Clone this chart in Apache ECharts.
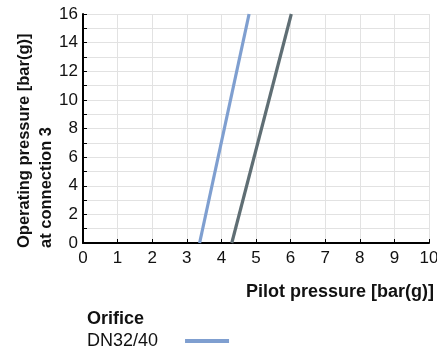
<!DOCTYPE html>
<html><head><meta charset="utf-8">
<script src="https://cdn.jsdelivr.net/npm/echarts@6/dist/echarts.min.js"></script>
<style>html,body{margin:0;padding:0;background:#fff}#c{width:437px;height:353px}</style>
</head><body><div id="c"></div>
<script>
const dn3240X = [3.37, 4.8];
const dn3240Y = [0, 16];
const otherX = [4.3, 6.02];
const otherY = [0, 16];
const xTicks = [0,1,2,3,4,5,6,7,8,9,10];
const yTickLabels = [0,2,4,6,8,10,12,14,16];

const font = "'Liberation Sans', Arial, Helvetica, sans-serif";
const chart = echarts.init(document.getElementById('c'));
chart.setOption({
  animation:false,
  textStyle:{fontFamily:font},
  grid:{left:83,right:8,top:14,bottom:110,containLabel:false,outerBoundsMode:'none'},
  title:{text:'Orifice',left:82,top:305,textStyle:{fontFamily:font,fontSize:18,fontWeight:'bold',color:'#111'}},
  legend:{left:82,top:327,itemWidth:44,itemHeight:4,align:'right',itemGap:10,
    textStyle:{fontFamily:font,fontSize:18,color:'#111',padding:[0,22,0,0]},
    data:[{name:'DN32/40',icon:'rect'}]},
  graphic:[
    {type:'text',right:3,top:283,style:{text:'Pilot pressure [bar(g)]',font:"bold 18px "+font,fill:'#111'}},
    {type:'text',x:35,y:248,rotation:Math.PI/2,style:{text:'Operating pressure [bar(g)]\nat connection 3',font:"bold 16.5px "+font,fill:'#111',lineHeight:22,align:'left',verticalAlign:'middle'}}
  ],
  xAxis:{type:'value',min:0,max:10,interval:1,
    axisLine:{lineStyle:{color:'#000',width:2}},
    axisTick:{show:true,inside:true,length:4,lineStyle:{color:'#000',width:1}},
    axisLabel:{fontFamily:font,fontSize:17,color:'#111',margin:7,formatter:v=>xTicks.includes(v)?String(v):''},
    splitLine:{show:true,lineStyle:{color:'#e2e2e2',width:1}}},
  yAxis:{type:'value',min:0,max:16,interval:1,
    axisLine:{show:true,lineStyle:{color:'#000',width:2}},
    axisTick:{show:true,inside:true,length:4,lineStyle:{color:'#000',width:1}},
    axisLabel:{fontFamily:font,fontSize:17,color:'#111',margin:5,formatter:v=>yTickLabels.includes(v)?String(v):''},
    splitLine:{show:true,lineStyle:{color:'#e2e2e2',width:1}}},
  series:[
    {name:'DN32/40',type:'line',data:dn3240X.map((x,i)=>[x,dn3240Y[i]]),showSymbol:false,
      lineStyle:{color:'#7f9fd0',width:3.2},itemStyle:{color:'#7f9fd0'}},
    {name:'other',type:'line',data:otherX.map((x,i)=>[x,otherY[i]]),showSymbol:false,
      lineStyle:{color:'#5f6e74',width:3.2},itemStyle:{color:'#5f6e74'}}
  ]
});
</script></body></html>
